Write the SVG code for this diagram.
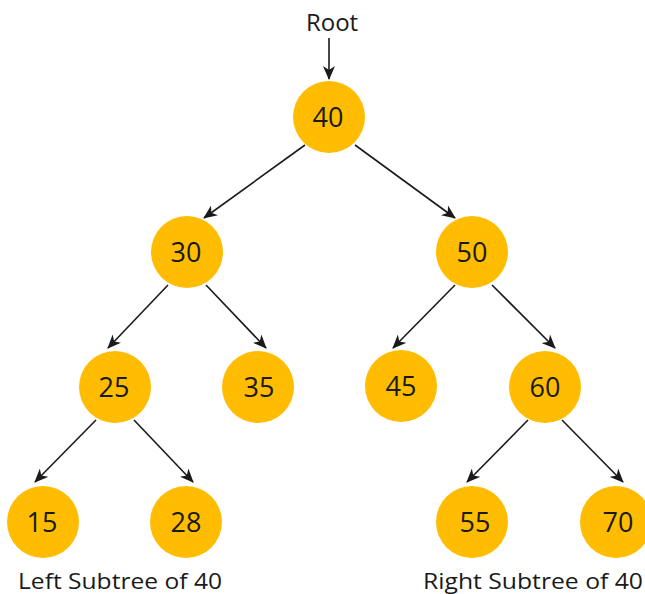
<svg xmlns="http://www.w3.org/2000/svg" width="645" height="594" viewBox="0 0 645 594">
<style>
.n circle{fill:#ffbc00}
.n text{font-family:"Open Sans","DejaVu Sans",sans-serif;font-size:27px;fill:#1a1a1a;text-anchor:middle}
.e line{stroke:#1a1a1a;stroke-width:1.6;marker-end:url(#ah)}
.lbl{font-family:"Open Sans","DejaVu Sans",sans-serif;fill:#1a1a1a}
</style>
<defs>
<marker id="ah" viewBox="0 0 14 12" refX="13" refY="6" markerWidth="14" markerHeight="12" markerUnits="userSpaceOnUse" orient="auto">
<path d="M0,0 L14,6 L0,12 L4,6 Z" fill="#1a1a1a"/>
</marker>
</defs>
<rect width="645" height="594" fill="#fff"/>
<text class="lbl" x="332" y="31" text-anchor="middle" font-size="24">Root</text>
<g class="e" id="edges">
<line x1="329" y1="38" x2="329" y2="79"/>
<line x1="305" y1="145" x2="204" y2="218"/>
<line x1="355" y1="145" x2="455" y2="218"/>
<line x1="168" y1="285" x2="108" y2="348"/>
<line x1="206" y1="285" x2="266" y2="348"/>
<line x1="455" y1="285" x2="393" y2="348"/>
<line x1="492" y1="285" x2="555" y2="348"/>
<line x1="96" y1="420" x2="35" y2="482"/>
<line x1="134" y1="420" x2="193" y2="482"/>
<line x1="528" y1="420" x2="467" y2="482"/>
<line x1="562" y1="420" x2="623" y2="482"/>
</g>
<g class="n" id="n40"><circle cx="329" cy="117" r="36"/><text x="328" y="127">40</text></g>
<g class="n" id="n30"><circle cx="187" cy="252" r="36"/><text x="186" y="262">30</text></g>
<g class="n" id="n50"><circle cx="472" cy="252" r="36"/><text x="472" y="262">50</text></g>
<g class="n" id="n25"><circle cx="115" cy="387" r="36"/><text x="114" y="397">25</text></g>
<g class="n" id="n35"><circle cx="258" cy="387" r="36"/><text x="259" y="397">35</text></g>
<g class="n" id="n45"><circle cx="401" cy="386" r="36"/><text x="401" y="396">45</text></g>
<g class="n" id="n60"><circle cx="545" cy="387" r="36"/><text x="545" y="397">60</text></g>
<g class="n" id="n15"><circle cx="43" cy="522" r="36"/><text x="42" y="532">15</text></g>
<g class="n" id="n28"><circle cx="186" cy="522" r="36"/><text x="186" y="532">28</text></g>
<g class="n" id="n55"><circle cx="472" cy="522" r="36"/><text x="475" y="532">55</text></g>
<g class="n" id="n70"><circle cx="616" cy="522" r="36"/><text x="618" y="532">70</text></g>
<text class="lbl" x="18" y="589" font-size="22" font-weight="500" textLength="204" lengthAdjust="spacingAndGlyphs">Left Subtree of 40</text>
<text class="lbl" x="423" y="589" font-size="22" font-weight="500" textLength="220" lengthAdjust="spacingAndGlyphs">Right Subtree of 40</text>
</svg>
